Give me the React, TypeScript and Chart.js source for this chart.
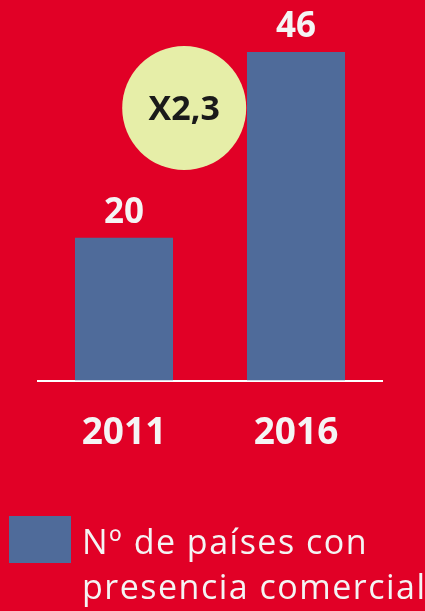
import React, { useEffect, useRef } from "react";
import { Chart, registerables } from "chart.js";

Chart.register(...registerables);

const categories = ["2011", "2016"];
const values = [20, 46];
const seriesLabel = ["Nº de países con", "presencia comercial"];
const growthLabel = "X2,3";

const RED = "#E10026";
const BAR = "#4F6B9A";
const WHITE = "#F4F4F4";
const FONT = "'Open Sans', sans-serif";

const overlayPlugin = {
  id: "overlay",
  afterDatasetsDraw(chart: any) {
    const ctx = chart.ctx;
    const meta = chart.getDatasetMeta(0);
    const xs = chart.scales.x;
    const ys = chart.scales.y;
    ctx.save();
    // value labels
    ctx.fillStyle = WHITE;
    ctx.font = `bold 35px ${FONT}`;
    ctx.textAlign = "center";
    ctx.textBaseline = "alphabetic";
    meta.data.forEach((bar: any, i: number) => {
      ctx.fillText(String(values[i]), bar.x, bar.y - 15);
    });
    // growth circle
    const cx = xs.getPixelForValue(0.35);
    const cy = ys.getPixelForValue(38.15);
    ctx.beginPath();
    ctx.arc(cx, cy, 62, 0, Math.PI * 2);
    ctx.fillStyle = "#E6EEA8";
    ctx.fill();
    ctx.fillStyle = "#1A1A1A";
    ctx.font = `bold 34px ${FONT}`;
    ctx.textBaseline = "middle";
    ctx.fillText(growthLabel, cx, cy + 2);
    // legend
    ctx.fillStyle = BAR;
    ctx.fillRect(9, 516, 62, 47);
    ctx.fillStyle = WHITE;
    ctx.font = `34px ${FONT}`;
    (ctx as any).letterSpacing = "1.5px";
    ctx.textAlign = "left";
    ctx.textBaseline = "alphabetic";
    seriesLabel.forEach((line, i) => {
      ctx.fillText(line, 82, 554 + i * 45);
    });
    ctx.restore();
  },
};

export default function App() {
  const ref = useRef<HTMLCanvasElement>(null);
  useEffect(() => {
    if (!ref.current) return;
    const chart = new Chart(ref.current, {
      type: "bar",
      data: {
        labels: categories,
        datasets: [
          {
            label: seriesLabel.join(" "),
            data: values,
            backgroundColor: BAR,
            barPercentage: 0.57,
            categoryPercentage: 1,
          },
        ],
      },
      options: {
        animation: false,
        responsive: false,
        layout: { padding: { left: 38, right: 43, top: 52, bottom: 124 } },
        plugins: { legend: { display: false }, tooltip: { enabled: false } },
        scales: {
          x: {
            grid: { display: false, drawTicks: false, tickLength: 0 },
            border: { display: true, color: "#FFFFFF", width: 2 },
            ticks: {
              color: WHITE,
              padding: 31,
              font: { family: FONT, size: 37, weight: "bold" },
            },
          },
          y: {
            min: 0,
            max: 46,
            display: false,
          },
        },
      },
      plugins: [overlayPlugin],
    });
    return () => chart.destroy();
  }, []);
  return (
    <div
      style={{
        position: "fixed",
        top: 0,
        left: 0,
        width: 425,
        height: 611,
        background: RED,
      }}
    >
      <canvas ref={ref} width={425} height={611} style={{ display: "block" }} />
    </div>
  );
}
